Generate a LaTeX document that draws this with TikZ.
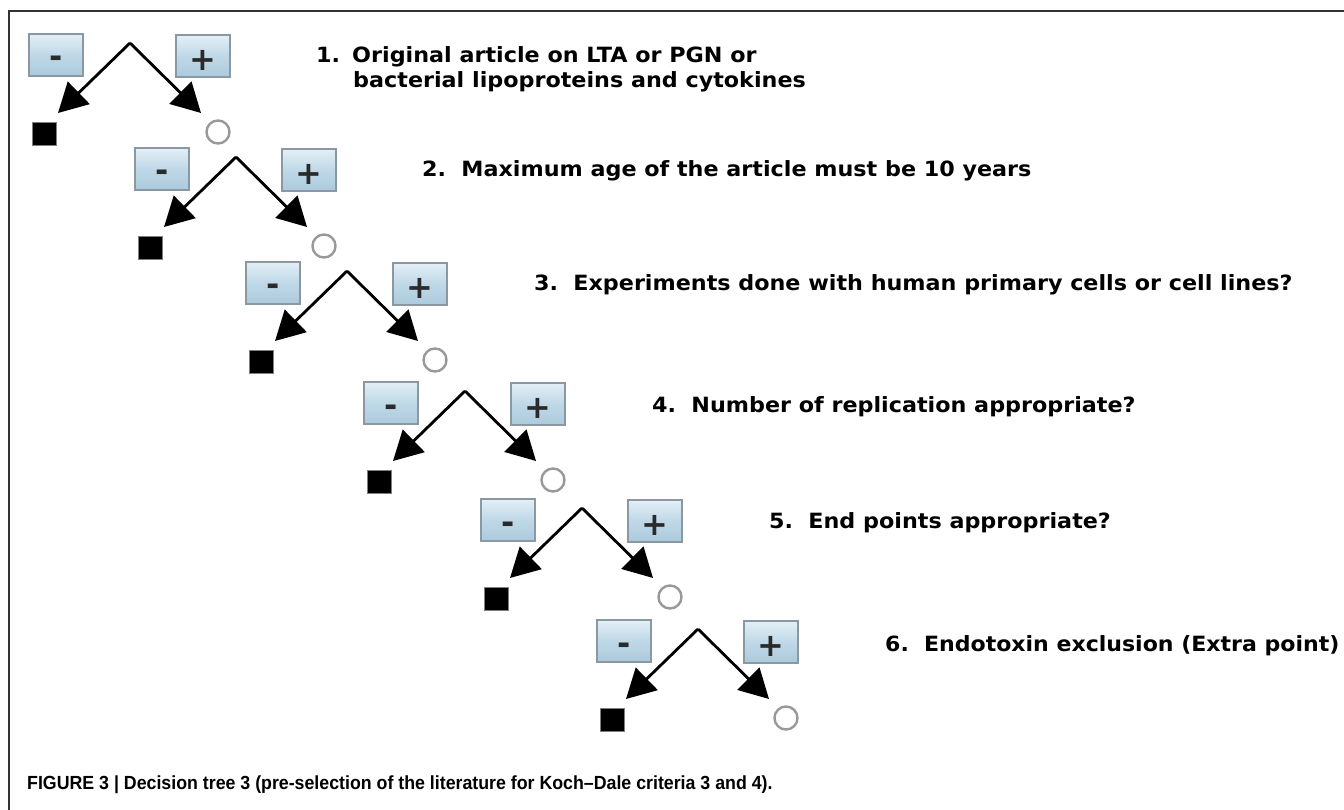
\documentclass[tikz,border=0pt]{standalone}
\usepackage{fontspec}
\usepackage{graphicx}
\setmainfont{DejaVu Sans}
\newfontfamily\capfont{Liberation Sans}
\usetikzlibrary{arrows.meta}
\definecolor{boxtop}{HTML}{F2F8FB}
\definecolor{boxmid}{HTML}{BFD8E7}
\definecolor{boxbot}{HTML}{98BCD2}
\definecolor{boxedge}{HTML}{8A98A2}
\definecolor{signcol}{HTML}{2A2A2A}
\definecolor{circcol}{HTML}{999999}
\definecolor{framecol}{HTML}{333333}
\pgfdeclareverticalshading{signshade}{100bp}{color(0bp)=(boxbot); color(50bp)=(boxmid); color(85bp)=(boxtop); color(100bp)=(boxtop)}
\tikzset{
  signbox/.style={draw=boxedge, line width=1.3pt, minimum width=54pt, minimum height=42pt,
    inner sep=0pt, shading=signshade, text=signcol, font=\fontsize{32}{32}\selectfont\bfseries},
  minusbox/.style={signbox, text height=26pt, text depth=0pt},
  plusbox/.style={signbox, text height=29pt, text depth=0pt},
  nobox/.style={fill=black, draw=gray, line width=0.6pt, minimum width=24pt, minimum height=23pt, inner sep=0pt},
  yesdot/.style={circle, draw=circcol, line width=2.4pt, minimum size=23pt, inner sep=0pt},
  branch/.style={line width=2.8pt, -{Triangle[length=29pt,width=31pt]}},
  crit/.style={anchor=base west, inner sep=0pt, font=\fontsize{21}{24}\selectfont\bfseries},
}
\begin{document}
\begin{tikzpicture}[x=1pt,y=-1pt]
\useasboundingbox (0,0) rectangle (1344,810);
\fill[white] (0,0) rectangle (1344,810);
\draw[framecol, line width=1.2pt] (9,811) -- (9,11) -- (1345,11);
\foreach \i/\ax/\ay in {1/130/43, 2/236/157, 3/347/271, 4/465/391, 5/582/508, 6/698/629}{
  \begin{scope}[shift={(\ax,\ay)}]
    \coordinate (a\i) at (0,0);
    \node[minusbox] (m\i) at (-74,12) {-};
    \node[plusbox] (p\i) at (73,13) {+};
    \coordinate (l\i) at (-72,70);
    \coordinate (r\i) at (71,70);
    \node[nobox] (s\i) at (-86,91) {};
    \node[yesdot] (c\i) at (88,89) {};
    \draw[branch] (a\i) -- (l\i);
    \draw[branch] (a\i) -- (r\i);
  \end{scope}
}
\node[crit] (t1) at (316,63) {\scalebox{1.06}[1]{\makebox[34pt][l]{1.}Original article on LTA or PGN or}};
\node[crit] (t1b) at (353,88) {\scalebox{1.06}[1]{bacterial lipoproteins and cytokines}};
\node[crit] (t2) at (422,177) {\scalebox{1.06}[1]{\makebox[37pt][l]{2.}Maximum age of the article must be 10 years}};
\node[crit] (t3) at (534,291) {\scalebox{1.06}[1]{\makebox[37pt][l]{3.}Experiments done with human primary cells or cell lines?}};
\node[crit] (t4) at (652,412) {\scalebox{1.06}[1]{\makebox[37pt][l]{4.}Number of replication appropriate?}};
\node[crit] (t5) at (769,528) {\scalebox{1.06}[1]{\makebox[37pt][l]{5.}End points appropriate?}};
\node[crit] (t6) at (885,651) {\scalebox{1.05}[1]{\makebox[37pt][l]{6.}Endotoxin exclusion (Extra point)}};
\node[anchor=base west, inner sep=0pt] (cap) at (27,789) {\scalebox{0.935}[1]{\capfont\bfseries\fontsize{19}{22}\selectfont FIGURE 3 | Decision tree 3 (pre-selection of the literature for Koch–Dale criteria 3 and 4).}};
\end{tikzpicture}
\end{document}
